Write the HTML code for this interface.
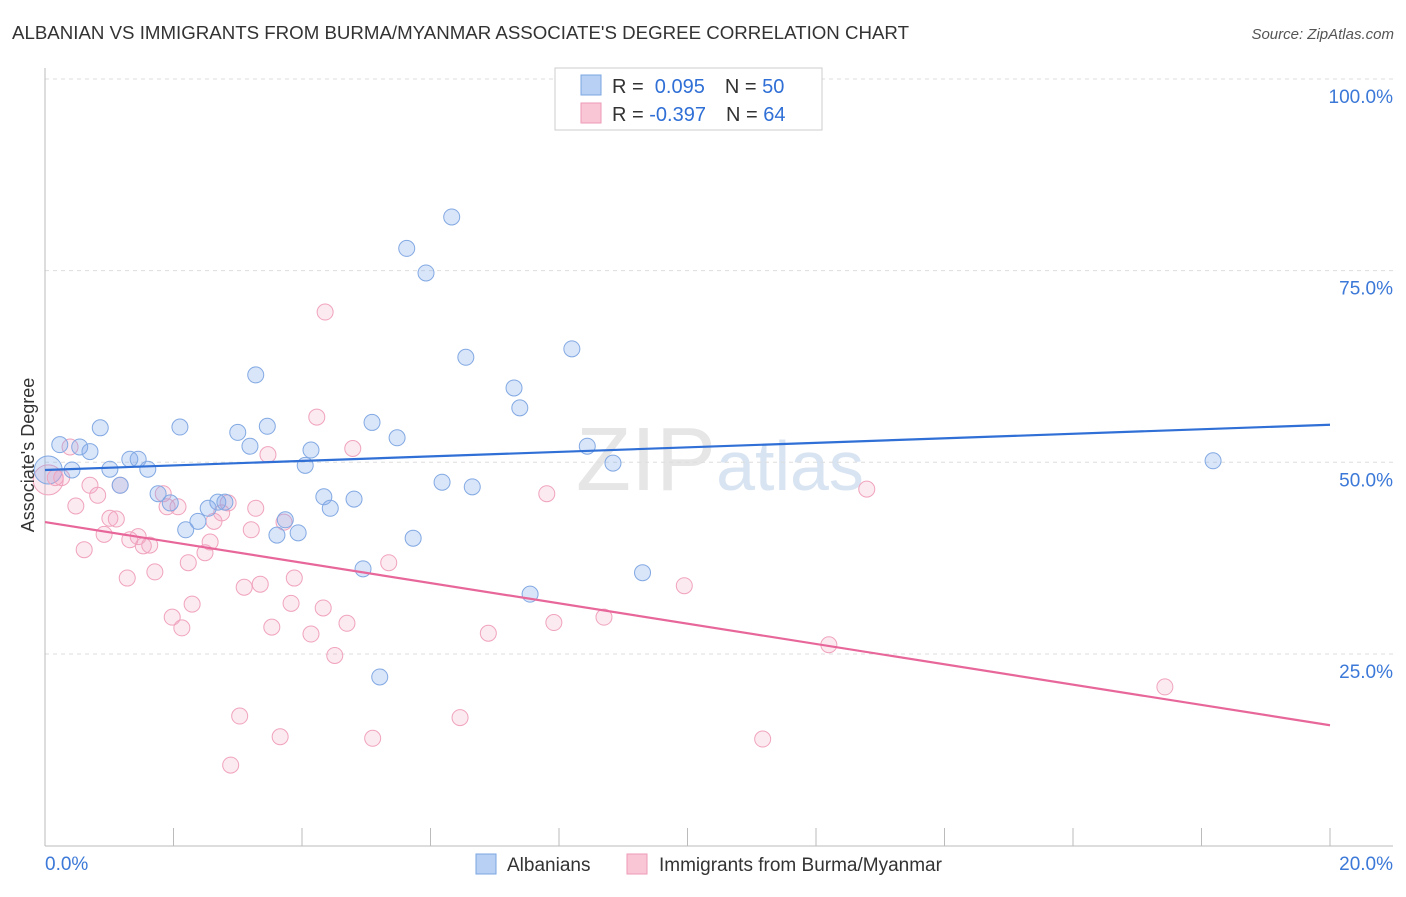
<!DOCTYPE html>
<html><head><meta charset="utf-8"><style>
body{margin:0;background:#fff;font-family:"Liberation Sans",sans-serif;}
svg text{font-family:"Liberation Sans",sans-serif;}
</style></head><body>
<svg id="chart" width="1406" height="892" xmlns="http://www.w3.org/2000/svg">
<text x="12" y="39" font-size="18" fill="#333" textLength="897" lengthAdjust="spacingAndGlyphs">ALBANIAN VS IMMIGRANTS FROM BURMA/MYANMAR ASSOCIATE'S DEGREE CORRELATION CHART</text>
<text x="1394" y="39" font-size="15" fill="#555" text-anchor="end" font-style="italic">Source: ZipAtlas.com</text>
<text x="720" y="490" font-size="90" fill="#e6e6e6" text-anchor="middle" font-family="Liberation Serif">ZIP<tspan fill="#d9e4f2" font-family="Liberation Sans" font-size="70">atlas</tspan></text>
<g id="grid"></g><g id="axes"></g><g id="marks"></g>
<text transform="translate(34,455) rotate(-90)" font-size="18" fill="#333" text-anchor="middle">Associate's Degree</text>
<g>
<rect x="555" y="68" width="267" height="62" fill="#fff" stroke="#ccc"/>
<rect x="581" y="75" width="20" height="20" fill="#b8d0f4" stroke="#7aa6e0"/>
<rect x="581" y="103" width="20" height="20" fill="#f9c6d6" stroke="#ef9ab6"/>
<text x="612" y="93" font-size="20" fill="#333">R = <tspan fill="#2f6fd6">&#160;0.095</tspan><tspan dx="20">N = </tspan><tspan fill="#2f6fd6">50</tspan></text>
<text x="612" y="121" font-size="20" fill="#333">R = <tspan fill="#2f6fd6">-0.397</tspan><tspan dx="20">N = </tspan><tspan fill="#2f6fd6">64</tspan></text>
</g>
<g>
<rect x="476" y="854" width="20" height="20" fill="#b8d0f4" stroke="#7aa6e0"/>
<text x="507" y="871" font-size="19" fill="#333">Albanians</text>
<rect x="627" y="854" width="20" height="20" fill="#f9c6d6" stroke="#ef9ab6"/>
<text x="659" y="871" font-size="19" fill="#333">Immigrants from Burma/Myanmar</text>
</g>
</svg>
<script>
const blueX=[.23,.42,.54,.70,.86,1.01,1.17,1.32,1.45,1.60,1.76,1.95,2.10,2.19,2.38,2.54,2.69,2.80,3.00,3.19,3.28,3.46,3.61,3.74,3.94,4.05,4.14,4.34,4.44,4.81,4.95,5.09,5.21,5.48,5.63,5.73,5.93,6.18,6.33,6.55,6.65,7.30,7.39,7.55,8.20,8.44,8.84,9.30,18.18];
const blueY=[52.3,49.0,52.0,51.4,54.5,49.1,47.0,50.4,50.4,49.1,45.9,44.7,54.6,41.2,42.3,44.0,44.8,44.8,53.9,52.1,61.4,54.7,40.5,42.5,40.8,49.6,51.6,45.5,44.0,45.2,36.1,55.2,22.0,53.2,77.9,40.1,74.7,47.4,82.0,63.7,46.8,59.7,57.1,32.8,64.8,52.1,49.9,35.6,50.2];
const pinkX=[.16,.26,.39,.48,.61,.70,.82,.92,1.01,1.11,1.17,1.28,1.32,1.45,1.53,1.63,1.71,1.84,1.90,1.98,2.07,2.13,2.23,2.29,2.49,2.57,2.63,2.75,2.85,2.89,3.03,3.10,3.21,3.28,3.35,3.47,3.53,3.66,3.72,3.83,3.88,4.14,4.23,4.33,4.36,4.51,4.70,4.79,5.10,5.35,6.46,6.90,7.81,7.92,8.70,9.95,11.17,12.20,12.79,17.43];
const pinkY=[48.0,48.0,52.0,44.3,38.6,47.0,45.7,40.6,42.7,42.6,47.0,34.9,39.9,40.3,39.1,39.2,35.7,45.9,44.2,29.8,44.2,28.4,36.9,31.5,38.2,39.6,42.3,43.4,44.7,10.5,16.9,33.7,41.2,44.0,34.1,51.0,28.5,14.2,42.2,31.6,34.9,27.6,55.9,31.0,69.6,24.8,29.0,51.8,14.0,36.9,16.7,27.7,45.9,29.1,29.8,33.9,13.9,26.2,46.5,20.7];
const bigBlue=[0.05,49.0];
const bigPink=[0.05,47.7];
const blueTrend=[49.0,54.9];
const pinkTrend=[42.2,15.7];
const yTicks=[25,50,75,100];
const xTickLabels=["0.0%","20.0%"];
const NS="http://www.w3.org/2000/svg";
const X0=45,X1=1330,Ytop=79,Ybot=845.6;
const sx=v=>X0+(v/20)*(X1-X0);
const sy=v=>Ybot-(v/100)*(Ybot-Ytop);
function mk(tag,attrs,parent){const e=document.createElementNS(NS,tag);for(const k in attrs)e.setAttribute(k,attrs[k]);document.getElementById(parent).appendChild(e);return e;}
yTicks.forEach(t=>{
 const l=mk('line',{x1:45,x2:1393,y1:sy(t),y2:sy(t),stroke:'#ddd','stroke-dasharray':'4,4'},'grid');
 
 
 const tx=mk('text',{x:1393,y:sy(t)+24,'font-size':19,fill:'#3b78d8','text-anchor':'end'},'grid');
 tx.textContent=t.toFixed(1)+'%';
 
 
});
const ax=mk('line',{x1:45,x2:45,y1:68,y2:846,stroke:'#bbb'},'axes');


const bx=mk('line',{x1:45,x2:1393,y1:846,y2:846,stroke:'#bbb'},'axes');


for(let i=0;i<=10;i++){
 const t=mk('line',{x1:sx(i*2),x2:sx(i*2),y1:828,y2:846,stroke:'#bbb'},'axes');
 
 
}
const xl0=mk('text',{x:45,y:870,'font-size':19,fill:'#3b78d8'},'axes');xl0.textContent=xTickLabels[0];


const xl1=mk('text',{x:1393,y:870,'font-size':19,fill:'#3b78d8','text-anchor':'end'},'axes');xl1.textContent=xTickLabels[1];


function dot(x,y,r,fill,stroke,name){
 const c=mk('circle',{cx:sx(x),cy:sy(y),r:r,fill:fill,stroke:stroke,'stroke-width':1},'marks');
 
 
}
const bf='rgba(130,170,235,0.3)',bs='#82a9e3',pf='rgba(242,160,190,0.22)',ps='#f0a3bd';
dot(bigPink[0],bigPink[1],15,pf,ps,'point-burma-large');
dot(bigBlue[0],bigBlue[1],14,bf,bs,'point-albanian-large');
pinkX.forEach((x,i)=>dot(x,pinkY[i],8,pf,ps,'point-burma'));
blueX.forEach((x,i)=>dot(x,blueY[i],8,bf,bs,'point-albanian'));
const tb=mk('line',{x1:sx(0),x2:sx(20),y1:sy(blueTrend[0]),y2:sy(blueTrend[1]),stroke:'#2f6fd6','stroke-width':2.2},'marks');


const tp=mk('line',{x1:sx(0),x2:sx(20),y1:sy(pinkTrend[0]),y2:sy(pinkTrend[1]),stroke:'#e8679a','stroke-width':2.2},'marks');


</script>
</body></html>
